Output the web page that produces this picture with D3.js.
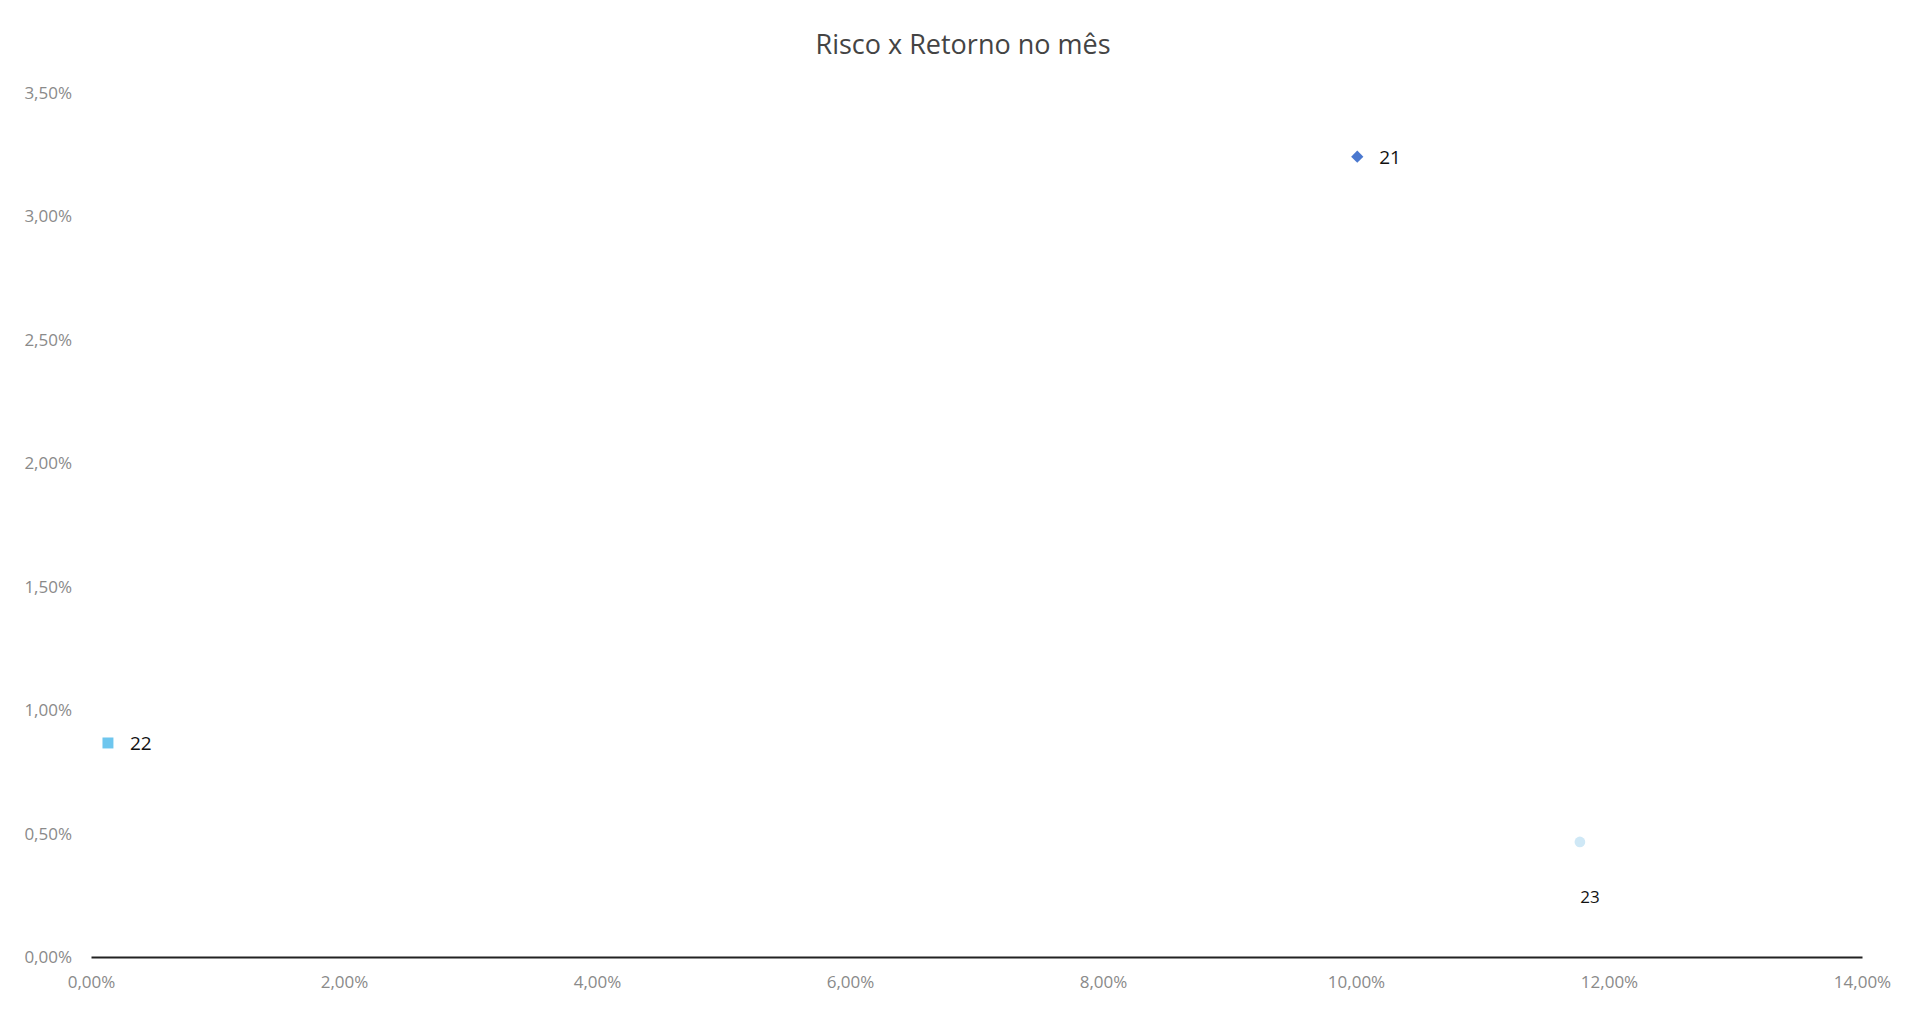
<!DOCTYPE html>
<html><head><meta charset="utf-8">
<script src="https://cdn.jsdelivr.net/npm/d3@7"></script>
<style>body{margin:0;background:#fff;} svg{display:block;}</style>
</head><body>
<svg id="c" width="1917" height="1009"></svg>
<script>
const names = ["21", "22", "23"];
const risk = [0.1001, 0.00134, 0.1177];
const ret = [0.03242, 0.00867, 0.00466];
const shapes = ["diamond", "square", "circle"];
const colors = ["#4a78cf", "#6ec6ee", "#cfe8f6"];
const xTicks = [0, 0.02, 0.04, 0.06, 0.08, 0.10, 0.12, 0.14];
const yTicks = [0, 0.005, 0.01, 0.015, 0.02, 0.025, 0.03, 0.035];
const title = "Risco x Retorno no mês";

const svg = d3.select("#c");
const font = "'Open Sans', 'Noto Sans', sans-serif";
const x = d3.scaleLinear().domain([0, 0.14]).range([91, 1862]);
const y = d3.scaleLinear().domain([0, 0.035]).range([957, 93]);
const fmt = v => (v * 100).toFixed(2).replace(".", ",") + "%";

svg.append("text").attr("x", 963).attr("y", 54).attr("text-anchor", "middle")
  .attr("font-family", font).attr("font-size", 27).attr("fill", "#444").text(title);

const yAxis = svg.append("g").attr("transform", "translate(91,0)")
  .call(d3.axisLeft(y).tickValues(yTicks).tickFormat(fmt).tickSize(0).tickPadding(19));
yAxis.select(".domain").remove();
yAxis.selectAll("text").attr("font-family", font).attr("font-size", 17).attr("fill", "#8a8a8a");

const xAxis = svg.append("g").attr("transform", "translate(0,957)")
  .call(d3.axisBottom(x).tickValues(xTicks).tickFormat(fmt).tickSize(0).tickPadding(19));
xAxis.select(".domain").attr("stroke", "#222").attr("stroke-width", 2);
xAxis.selectAll("text").attr("font-family", font).attr("font-size", 17).attr("fill", "#8a8a8a");

const sym = {square: d3.symbolSquare, circle: d3.symbolCircle};
const sizes = {square: 120, circle: 90};
names.forEach((n, i) => {
  const cx = x(risk[i]), cy = y(ret[i]);
  if (shapes[i] === "diamond") {
    svg.append("path")
      .attr("d", d3.symbol().type(d3.symbolSquare).size(75)())
      .attr("transform", `translate(${cx},${cy}) rotate(45)`)
      .attr("fill", colors[i]);
  } else {
    svg.append("path")
      .attr("d", d3.symbol().type(sym[shapes[i]]).size(sizes[shapes[i]])())
      .attr("transform", `translate(${cx},${cy})`)
      .attr("fill", colors[i]);
  }
  const below = i === 2;
  svg.append("text")
    .attr("x", below ? cx + 10 : cx + 22)
    .attr("y", below ? cy + 61 : cy + 7)
    .attr("text-anchor", below ? "middle" : "start")
    .attr("font-family", font).attr("font-size", below ? 17 : 19)
    .attr("fill", "#111").text(n);
});
</script>
</body></html>
